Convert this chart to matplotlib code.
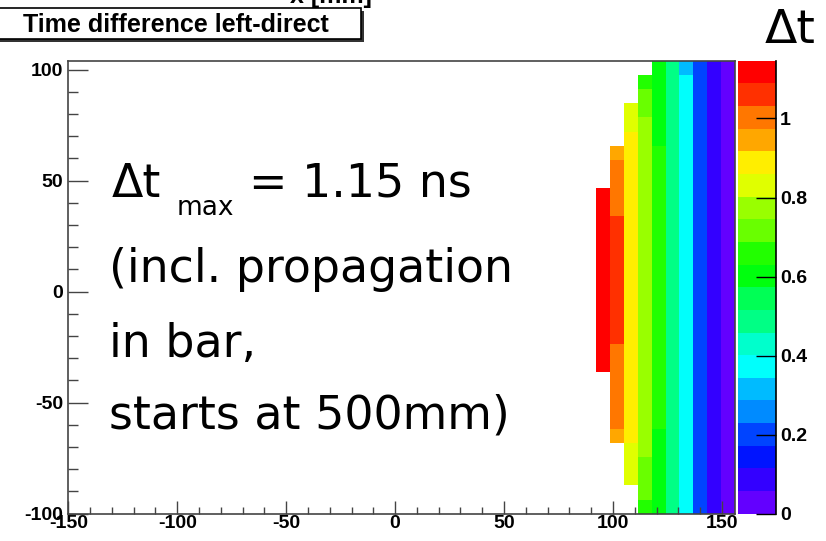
import colorsys
import numpy as np
import matplotlib
matplotlib.use("Agg")
import matplotlib.pyplot as plt
from matplotlib.colors import ListedColormap, BoundaryNorm
from matplotlib.patches import Rectangle

# histogram binning (6.375 mm bins in x and y)
x_lo, x_hi, n_xbins = -150, 156, 48
y_lo, y_hi, n_ybins = -100, 104, 32
z_max    = 1.146     # ns, top of the colour scale
n_levels = 20

# filled columns: bin centre in x [mm], values listed top row -> bottom row [ns]
E = None   # empty bin
col_x = [95.4, 101.8, 108.2, 114.6, 120.9, 127.3, 133.7, 140.1, 146.4, 152.8]
dt_x95  = [E]*9 + [1.12]*13 + [E]*10
dt_x102 = [E]*6 + [0.95] + [1.00]*4 + [1.06]*9 + [1.00]*6 + [0.95] + [E]*5
dt_x108 = [E]*3 + [0.83]*2 + [0.89]*22 + [0.83]*3 + [E]*2
dt_x115 = [E] + [0.66] + [0.72]*2 + [0.77]*24 + [0.72]*3 + [0.66]
dt_x121 = [0.60]*6 + [0.66]*20 + [0.60]*6
dt_x127 = [0.49]*32
dt_x134 = [0.32] + [0.37]*31
dt_x140 = [0.20]*32
dt_x146 = [0.09]*32
dt_x153 = [0.03]*32
columns = [dt_x95, dt_x102, dt_x108, dt_x115, dt_x121,
           dt_x127, dt_x134, dt_x140, dt_x146, dt_x153]

x_ticks  = [-150, -100, -50, 0, 50, 100, 150]
y_ticks  = [-100, -50, 0, 50, 100]
cb_ticks = [0, 0.2, 0.4, 0.6, 0.8, 1.0]
cb_labels = ["0", "0.2", "0.4", "0.6", "0.8", "1"]

title   = "Time difference left-direct"
x_title = "x [mm]"
note_lines = ["(incl. propagation", "in bar,", "starts at 500mm)"]

# ---- grid ----
xedges = np.linspace(x_lo, x_hi, n_xbins + 1)
yedges = np.linspace(y_lo, y_hi, n_ybins + 1)
Z = np.full((n_ybins, n_xbins), np.nan)
for xc, vals in zip(col_x, columns):
    ix = np.searchsorted(xedges, xc) - 1
    Z[:, ix] = np.array(vals, dtype=float)[::-1]

# ROOT "pretty" palette (50 HLS colours, violet -> red), 20 contour levels
pretty = [colorsys.hls_to_rgb((280 - (i + 1) * 280 / 50) / 360, 0.5, 1.0) for i in range(50)]
level_colors = [pretty[int((k + 0.99) * 50 / n_levels)] for k in range(n_levels)]
cmap = ListedColormap(level_colors)
norm = BoundaryNorm(np.linspace(0, z_max, n_levels + 1), n_levels)

W, H = 826, 541
fig = plt.figure(figsize=(W / 100, H / 100), dpi=100)
fig.patch.set_facecolor("white")

L, R, T, B = 68.3, 735, 60.8, 513.7
ax = fig.add_axes([L / W, 1 - B / H, (R - L) / W, (B - T) / H])
cax = fig.add_axes([738 / W, 1 - B / H, 38 / W, (B - T) / H])

mesh = ax.pcolormesh(xedges, yedges, Z, cmap=cmap, norm=norm,
                     linewidth=0, antialiased=False)
ax.set_xlim(x_lo, x_hi)
ax.set_ylim(y_lo, y_hi)

frame_c = "#444444"
for side in ["left", "bottom", "right", "top"]:
    ax.spines[side].set_color(frame_c)
    ax.spines[side].set_linewidth(1.2)

tick_font = dict(family="Liberation Sans", weight="bold", size=14)
ax.set_xticks(x_ticks)
ax.set_yticks(y_ticks)
ax.set_xticks(np.arange(-140, 151, 10), minor=True)
ax.set_yticks(np.arange(-90, 101, 10), minor=True)
ax.set_xticklabels([str(v) for v in x_ticks], fontdict=tick_font)
ax.set_yticklabels([str(v) for v in y_ticks], fontdict=tick_font)
ax.tick_params(axis="x", which="major", direction="in", length=9.4, width=1, color=frame_c, pad=1)
ax.tick_params(axis="x", which="minor", direction="in", length=4.7, width=1, color=frame_c)
ax.tick_params(axis="y", which="major", direction="in", length=14.4, width=1, color=frame_c, pad=3.5)
ax.tick_params(axis="y", which="minor", direction="in", length=7.2, width=1, color=frame_c)

# colour bar
cbar = fig.colorbar(mesh, cax=cax)
cbar.outline.set_visible(False)
cbar.set_ticks(cb_ticks)
cbar.set_ticklabels(cb_labels)
cax.minorticks_off()
cax.tick_params(axis="y", which="major", direction="in", length=14.4, width=1,
                color="black", pad=3, right=True, left=False)
for lab in cax.get_yticklabels():
    lab.set_fontproperties(matplotlib.font_manager.FontProperties(**tick_font))
cax.plot([1, 1], [0, 1], transform=cax.transAxes, color="black", lw=1.2, clip_on=False)
fig.text(765 / W, 1 - 43 / H, "\u0394t", fontsize=34, family="DejaVu Sans", va="baseline")

# title box with shadow
fig.add_artist(Rectangle(((-5 + 3) / W, 1 - 41.5 / H), 366 / W, 31 / H,
                         transform=fig.transFigure, facecolor="#333333", edgecolor="none"))
fig.add_artist(Rectangle((-5 / W, 1 - 39.3 / H), 366 / W, 31 / H,
                         transform=fig.transFigure, facecolor="white",
                         edgecolor="black", linewidth=1.2))
fig.text(23 / W, 1 - 31.7 / H, title, fontsize=18, family="Liberation Sans",
         weight="bold", va="baseline")
# x-axis title, mostly cut off at the top of the picture (as in the original)
fig.text(290 / W, 1 - 3 / H, x_title, fontsize=18, family="Liberation Sans",
         weight="bold", va="baseline")

# annotation
def axfrac(px, py):
    return (px - L) / (R - L), (B - py) / (B - T)

note_font = dict(family="DejaVu Sans", fontsize=33, va="baseline", transform=ax.transAxes)
ax.text(*axfrac(112, 196.7), "\u0394t", **note_font)
ax.text(*axfrac(177, 215), "max", family="DejaVu Sans", fontsize=19,
        va="baseline", transform=ax.transAxes)
ax.text(*axfrac(249, 196.7), "= 1.15 ns", **note_font)
for line, py in zip(note_lines, [281.7, 356.7, 428.3]):
    ax.text(*axfrac(109, py), line, **note_font)

fig.savefig("out.png", dpi=100)
